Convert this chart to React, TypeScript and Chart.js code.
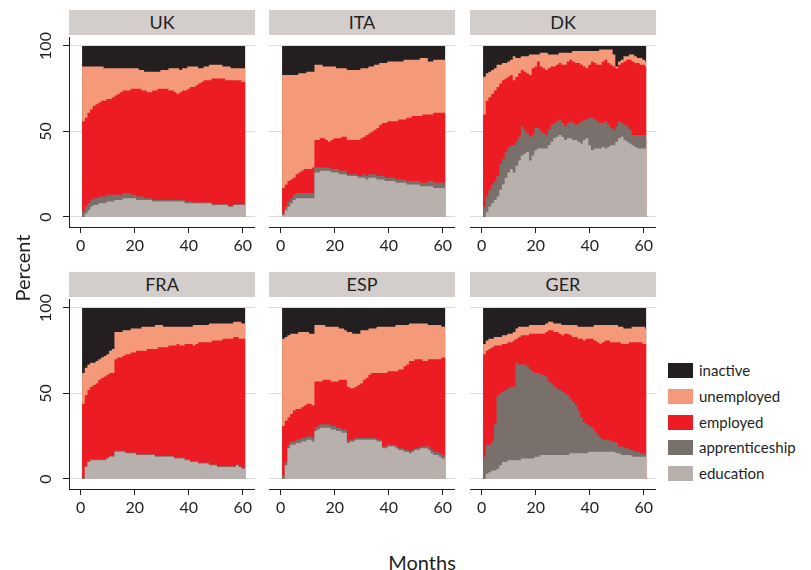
import React, { useEffect, useRef } from "react";
import { Chart, registerables } from "chart.js";

Chart.register(...registerables);

// ---------- data ----------
const months = Array.from({ length: 61 }, (_, i) => i + 1);
const xTickValues = [0, 20, 40, 60];
const yTickValues = [0, 50, 100];
const stateLabels = ["education", "apprenticeship", "employed", "unemployed", "inactive"];
const stateColors = ["#b7b0ad", "#7a706b", "#ed1c24", "#f5997b", "#231f20"];
const countries = ["UK", "ITA", "DK", "FRA", "ESP", "GER"];

// UK
const ukEducation = [0,2,4,6,7,7,8,8,8,9,9,9, 10,10,10,11,11,11,11,11,10,10,10,10,10, 10,9,9,9,9,9,9,9,9,9, 9,9,9,8,8,8,8,8,8,8, 8,8,8,7,7,7,7,7,7,6,6,7,7,7,7,7];
const ukApprenticeship = [3,4,4,4,4,4,4,4,4,4,4,4, 3,3,3,3,3,3,2,2,2,2,2,1,1, 1,1,1,1,1,1,1,1,1,1, 1,1,1,1,1,1,0.5,0.5,0.5,0.5, 0.5,0.5,0.5,0.5,0.5,0.5,0.5,0.5,0.5,0.5,0.5,0.5,0.5,0.5,0.5,0.5];
const ukEmployed = [53,52,53,53,54,55,55,56,56,56,56,57, 58,59,60,60,60,60,62,62,63,63,62,63,62, 62,64,64,65,65,65,65,64,64,63, 62,63,64,65,66,67,67.5,68.5,69.5,70.5, 71.5,71.5,71.5,73.5,73.5,73.5,73.5,73.5,72.5,73.5,73.5,72.5,72.5,72.5,71.5,71.5];
const ukUnemployed = [32,30,27,25,23,22,21,20,19,18, 18,17,16,15,14,13,13,13,12,12, 12,11,12,11,12,12,11,11,10,11, 11,11,13,13,14,15,13,13,13,13, 12,12,11,9,8,8,8,9,8,8, 8,8,7,8,8,7,7,7,7,8,8];
const ukInactive = [12,12,12,12,12,12,12,12, 13,13,13,13,13,13,13,13,13,13,13,13, 13,14,14,15,15,15,15,15,15,14, 14,14,13,13,13,13,14,13,13,12, 12,12,12,13,13,12,12,11,11,11, 11,11,12,12,12,13,13,13,13,13,13];

// ITA
const itaEducation = [1,4,6,8,10,11,11,11,11,11,11,11, 26,26,27,27,27,27,26,26,26,25,25,25, 24,24,24,24,23,23,23,22,23,23,23,22, 22,22,21,21,21,21,20,20,20,20,19,19, 19,19,19,18,18,18,18,18,17,17,17,17,17];
const itaApprenticeship = [1,2,3,3,3,3,3,3,3,3,3,3, 3,3,2,2,2,2,2,2,2,2,2,2, 1,1,1,1,1,1,2,2,2,2,2,2, 2,2,2,2,2,2,2,2,2,2,2,2, 2,2,2,2,2,2,3,3,3,3,3,3,3];
const itaEmployed = [15,13,12,11,10,11,12,13,14,14,14,15, 16,16,17,17,16,15,17,18,18,19,20,20, 20,20,20,20,21,22,22,24,24,25,26,28, 30,31,32,33,33,33,34,35,35,35,37,37, 38,38,38,39,40,40,39,39,41,41,41,41,41];
const itaUnemployed = [66,64,62,61,60,58,58,57,56,57,57,56, 44,44,43,42,43,44,43,42,41,41,40,40, 41,41,41,41,41,41,40,39,39,38,38,37, 36,35,35,35,35,35,35,34,34,35,34,34, 33,33,33,34,33,33,31,31,31,31,31,31,31];
const itaInactive = [17,17,17,17,17,17,16,16,16,15,15,15, 11,11,11,12,12,12,12,12,13,13,13,13, 14,14,14,14,14,13,13,13,12,12,11,11, 10,10,10,9,9,9,9,9,9,8,8,8, 8,8,8,7,7,7,9,9,8,8,8,8,8];

// DK
const dkEducation = [0,3,6,8,10,12,16,19,23,26,28,26, 30,33,36,37,38,33,36,39,40,40,40,40, 42,44,46,47,48,47,45,46,46,45,45,44, 43,45,46,42,39,40,40,40,41,40,41,42, 42,44,46,47,45,44,43,42,41,40,40,40,40];
const dkApprenticeship = [6,9,10,11,11,12,15,15,15,15,14,16, 14,14,17,14,11,14,12,13,12,10,9,8, 9,10,9,9,9,8,8,9,10,10,9,11, 13,12,11,16,19,17,16,15,14,16,13,10, 9,9,10,8,9,9,8,6,7,8,8,8,8];
const dkEmployed = [54,56,54,53,53,52,47,46,43,41,41,38, 38,37,33,34,35,36,39,36,39,38,38,38, 36,34,33,33,33,34,36,36,36,36,36,35, 33,31,30,31,33,33,33,34,36,36,36,37, 37,34,33,35,37,39,41,43,42,42,41,41,40];
const dkUnemployed = [22,16,15,14,13,13,11,10,9,9,9,14, 11,9,8,9,10,12,8,7,4,8,9,10, 8,7,7,6,6,7,7,5,4,6,7,7, 8,9,10,8,6,7,8,9,7,6,8,9, 7,1,2,2,3,2,3,4,4,3,4,3,3];
const dkInactive = [18,16,15,14,13,11,11,10,10,9,8,6, 7,7,6,6,6,5,5,5,5,4,4,4, 5,5,5,5,4,4,4,4,4,3,3,3, 3,3,3,3,3,3,3,2,2,2,2,2, 5,12,9,8,6,6,5,5,6,7,7,8,9];

// FRA
const fraEducation = [0,7,10,11,11,11,11,11,11,12,13,13, 16,16,16,16,15,15,15,15,14,14,14,14, 14,14,14,13,13,13,13,13,13,13,12,12, 12,12,11,11,10,10,10,9,9,9,9,8, 8,8,7,7,7,7,7,7,7,8,7,6,6];
const fraApprenticeship = [0.5,0.5,0.5,0.5,0.5,0.5,0.5,0.5,0.5,0.5,0.5,0.5, 0.5,0.5,0.5,0.5,0.5,0.5,0.5,0.5,0.5,0.5,0.5,0.5, 0.5,0.5,0.5,0.5,0.5,0.5,0.5,0.5,0.5,0.5,0.5,0.5, 0.5,0.5,0.5,0.5,0.5,0.5,0.5,0.5,0.5,0.5,0.5,0.5, 0.5,0.5,0.5,0.5,0.5,0.5,0.5,0.5,0.5,0.5,0.5,0.5,0.5];
const fraEmployed = [43.5,41.5,41.5,42.5,43.5,44.5,46.5,47.5,48.5,48.5,48.5,48.5, 53.5,54.5,54.5,55.5,57.5,57.5,58.5,58.5,60.5,60.5,60.5,60.5, 61.5,61.5,61.5,62.5,63.5,63.5,63.5,63.5,64.5,64.5,65.5,66.5, 65.5,65.5,67.5,67.5,68.5,67.5,68.5,70.5,70.5,70.5,70.5,71.5, 72.5,72.5,73.5,73.5,74.5,74.5,74.5,74.5,75.5,74.5,74.5,75.5,75.5];
const fraUnemployed = [18,16,15,14,13,13,12,12,12,12,13,14, 16,15,15,15,14,14,14,14,13,13,14,14, 13,13,13,14,13,13,12,12,11,11,11,10, 11,11,10,10,10,12,11,10,10,10,10,11, 10,10,10,10,9,9,9,9,9,9,10,9,9];
const fraInactive = [38,35,33,32,32,31,30,29,28,27,25,24, 14,14,14,13,13,13,12,12,12,12,11,11, 11,11,11,10,10,10,11,11,11,11,11,11, 11,11,11,11,11,10,10,10,10,10,10,9, 9,9,9,9,9,9,9,9,8,8,8,9,9];

// ESP
const espEducation = [0,8,18,20,20,21,21,22,22,23,23,22, 28,29,30,30,30,30,29,29,28,28,27,27, 21,22,22,23,23,23,23,23,23,23,23,22, 22,18,18,19,19,19,18,17,17,16,16,15, 16,17,17,18,18,18,17,15,14,14,13,12,12];
const espApprenticeship = [2,2,2,2,2,2,2,2,2,2,2,2, 2,2,2,2,2,2,2,2,2,2,2,2, 1,1,1,1,1,1,1,1,1,1,1,1, 1,1,1,1,1,1,1,1,1,1,1,1, 1,1,1,1,1,1,2,2,2,2,2,2,2];
const espEmployed = [29,24,16,16,18,18,18,18,19,19,19,19, 27,26,25,26,26,26,26,26,27,28,29,29, 32,30,30,30,31,32,34,35,37,38,38,39, 39,43,43,43,43,43,44,46,46,49,50,53, 52,52,52,51,50,50,51,53,54,54,55,57,57];
const espUnemployed = [51,49,48,47,45,44,45,44,43,42,41,42, 33,33,33,32,31,31,32,32,32,30,30,29, 32,33,32,31,30,31,29,28,27,26,26,27, 27,27,27,26,26,26,27,26,26,24,23,22, 22,21,21,21,22,22,20,20,20,20,20,18,18];
const espInactive = [18,17,16,15,15,15,14,14,14,14,15,15, 10,10,10,10,11,11,11,11,11,12,12,13, 14,14,15,15,15,13,13,13,12,12,12,11, 11,11,11,11,11,11,10,10,10,10,10,9, 9,9,9,9,9,9,10,10,10,10,10,11,11];

// GER
const gerEducation = [0,3,4,5,5,6,8,10,10,11,11,11, 11,11,12,12,12,12,12,13,13,14,14,14, 14,14,14,14,14,14,14,14,15,15,15,15, 15,15,15,16,16,16,16,16,16,16,16,16, 16,15,15,14,14,14,14,13,13,13,13,13,13];
const gerApprenticeship = [13,17,16,17,27,43,42,41,42,42,43,43, 57,56,55,55,54,52,51,49,49,47,47,46, 43,42,40,39,38,37,36,35,32,30,28,25, 21,18,17,15,14,12,10,8,7,7,7,6, 6,6,4,5,4,4,3,4,3,3,2,2,2];
const gerEmployed = [60,55,56,55,46,29,28,28,27,27,26,27, 14,16,17,17,18,21,22,23,23,24,24,26, 30,31,32,33,33,33,35,36,37,38,40,42, 46,48,50,51,52,53,54,55,57,58,58,58, 58,59,61,60,61,61,63,63,64,64,65,64,64];
const gerUnemployed = [6,6,6,5,5,5,5,5,5,5,5,5, 6,6,5,5,5,5,5,5,5,5,5,5, 5,5,5,5,6,6,5,5,6,7,7,7, 7,8,7,7,7,9,10,11,10,9,9,10, 10,10,9,10,9,9,8,9,9,9,9,10,9];
const gerInactive = [21,19,18,18,17,17,17,16,16,15,15,14, 12,11,11,11,11,10,10,10,10,10,10,9, 8,8,9,9,9,10,10,10,10,10,10,11, 11,11,11,11,11,10,10,10,10,10,10,10, 10,10,11,11,12,12,12,11,11,11,11,11,12];

const countrySeries: number[][][] = [
  [ukEducation, ukApprenticeship, ukEmployed, ukUnemployed, ukInactive],
  [itaEducation, itaApprenticeship, itaEmployed, itaUnemployed, itaInactive],
  [dkEducation, dkApprenticeship, dkEmployed, dkUnemployed, dkInactive],
  [fraEducation, fraApprenticeship, fraEmployed, fraUnemployed, fraInactive],
  [espEducation, espApprenticeship, espEmployed, espUnemployed, espInactive],
  [gerEducation, gerApprenticeship, gerEmployed, gerUnemployed, gerInactive],
];

// ---------- layout ----------
const FONT = 'Lato, "Open Sans", sans-serif';
const TEXT = "#231f20";
const COL_LEFT = [69, 269, 470];
const HEADER_TOP = [10, 272];
const FRAME_TOP = [37, 299];
const FRAME_W = 186;
const FRAME_H = 190;
const HEADER_H = 25;
const Y_AXIS_W = 49;
const X_AXIS_H = 32;
const PAD_TOP = 14;
const X_MIN = -4.33;
const X_MAX = 64.56;
const Y_MIN = -5.85;
const Y_MAX = 105.26;

function cumulate(series: number[][]): number[][] {
  const out: number[][] = [];
  let acc = months.map(() => 0);
  for (const s of series) {
    acc = acc.map((v, i) => v + s[i]);
    out.push(acc);
  }
  return out;
}

function stepPoints(cum: number[]) {
  const pts = months.map((m, i) => ({ x: m - 0.5, y: cum[i] }));
  pts.push({ x: months[months.length - 1], y: cum[cum.length - 1] });
  return pts;
}

function Panel({ index }: { index: number }) {
  const ref = useRef<HTMLCanvasElement>(null);
  const col = index % 3;
  const row = Math.floor(index / 3);
  const isLeft = col === 0;
  const canvasLeft = isLeft ? COL_LEFT[col] - Y_AXIS_W : COL_LEFT[col];
  const canvasW = FRAME_W + (isLeft ? Y_AXIS_W : 0);
  const canvasH = FRAME_H + X_AXIS_H + PAD_TOP;

  useEffect(() => {
    const cum = cumulate(countrySeries[index]);
    const datasets = stateLabels.map((label, k) => ({
      label,
      data: stepPoints(cum[k]),
      stepped: true,
      fill: "origin",
      backgroundColor: stateColors[k],
      borderColor: "rgba(0,0,0,0)",
      borderWidth: 0,
      pointRadius: 0,
      pointHoverRadius: 0,
      tension: 0,
    }));
    const chart = new Chart(ref.current as HTMLCanvasElement, {
      type: "line",
      data: { datasets } as any,
      options: {
        animation: false,
        responsive: false,
        maintainAspectRatio: false,
        devicePixelRatio: 1,
        events: [],
        layout: { padding: { top: PAD_TOP, left: 0, right: 0, bottom: 0 } },
        plugins: {
          legend: { display: false },
          tooltip: { enabled: false },
          title: { display: false },
        },
        scales: {
          x: {
            type: "linear",
            min: X_MIN,
            max: X_MAX,
            afterBuildTicks: (s: any) => {
              s.ticks = xTickValues.map((v) => ({ value: v }));
            },
            afterFit: (s: any) => {
              s.height = X_AXIS_H;
              s.paddingLeft = 0;
              s.paddingRight = 0;
              s.paddingTop = 0;
              s.paddingBottom = 0;
            },
            grid: {
              drawOnChartArea: false,
              drawTicks: true,
              tickLength: 6,
              tickColor: TEXT,
              tickWidth: 1,
            },
            border: { display: true, color: TEXT, width: 1 },
            ticks: {
              autoSkip: false,
              maxRotation: 0,
              minRotation: 0,
              padding: 3,
              color: TEXT,
              font: { family: FONT, size: 16 },
              callback: (v: any) => String(v),
            },
          },
          y: {
            type: "linear",
            min: Y_MIN,
            max: Y_MAX,
            afterBuildTicks: (s: any) => {
              s.ticks = yTickValues.map((v) => ({ value: v }));
            },
            afterFit: (s: any) => {
              s.width = isLeft ? Y_AXIS_W : 0;
              s.paddingLeft = 0;
              s.paddingRight = 0;
              s.paddingTop = 0;
              s.paddingBottom = 0;
            },
            grid: {
              display: true,
              drawOnChartArea: true,
              drawTicks: isLeft,
              tickLength: 6,
              color: "#dcdcdc",
              tickColor: TEXT,
              lineWidth: 1,
            },
            border: { display: isLeft, color: TEXT, width: 1 },
            ticks: {
              display: isLeft,
              minRotation: 90,
              maxRotation: 90,
              crossAlign: "center",
              padding: 3,
              color: TEXT,
              font: { family: FONT, size: 16 },
              callback: (v: any) => String(v),
            },
          },
        },
      } as any,
    });
    return () => chart.destroy();
  }, [index]);

  return (
    <>
      <div
        style={{
          position: "absolute",
          left: COL_LEFT[col],
          top: HEADER_TOP[row],
          width: FRAME_W,
          height: HEADER_H,
          background: "#d3cecc",
          color: TEXT,
          fontFamily: FONT,
          fontSize: 18,
          lineHeight: `${HEADER_H}px`,
          textAlign: "center",
        }}
      >
        {countries[index]}
      </div>
      <canvas
        ref={ref}
        width={canvasW}
        height={canvasH}
        style={{
          position: "absolute",
          left: canvasLeft,
          top: FRAME_TOP[row] - PAD_TOP,
          width: canvasW,
          height: canvasH,
        }}
      />
    </>
  );
}

export default function App() {
  const legendOrder = [4, 3, 2, 1, 0];
  return (
    <div
      style={{
        position: "absolute",
        left: 0,
        top: 0,
        width: 811,
        height: 570,
        background: "#ffffff",
        overflow: "hidden",
      }}
    >
      {countries.map((_, i) => (
        <Panel key={i} index={i} />
      ))}
      {legendOrder.map((k, i) => (
        <div key={k}>
          <div
            style={{
              position: "absolute",
              left: 668,
              top: 363 + i * 25.8,
              width: 25,
              height: 15,
              background: stateColors[k],
            }}
          />
          <div
            style={{
              position: "absolute",
              left: 699,
              top: 363 + i * 25.8 - 2,
              height: 19,
              lineHeight: "19px",
              fontFamily: FONT,
              fontSize: 15,
              color: TEXT,
              whiteSpace: "nowrap",
            }}
          >
            {stateLabels[k]}
          </div>
        </div>
      ))}
      <div
        style={{
          position: "absolute",
          left: 22 - 60,
          top: 268 - 13,
          width: 120,
          height: 26,
          lineHeight: "26px",
          textAlign: "center",
          transform: "rotate(-90deg)",
          fontFamily: FONT,
          fontSize: 20,
          color: TEXT,
        }}
      >
        Percent
      </div>
      <div
        style={{
          position: "absolute",
          left: 422 - 60,
          top: 562 - 13,
          width: 120,
          height: 26,
          lineHeight: "26px",
          textAlign: "center",
          fontFamily: FONT,
          fontSize: 20,
          color: TEXT,
        }}
      >
        Months
      </div>
    </div>
  );
}
